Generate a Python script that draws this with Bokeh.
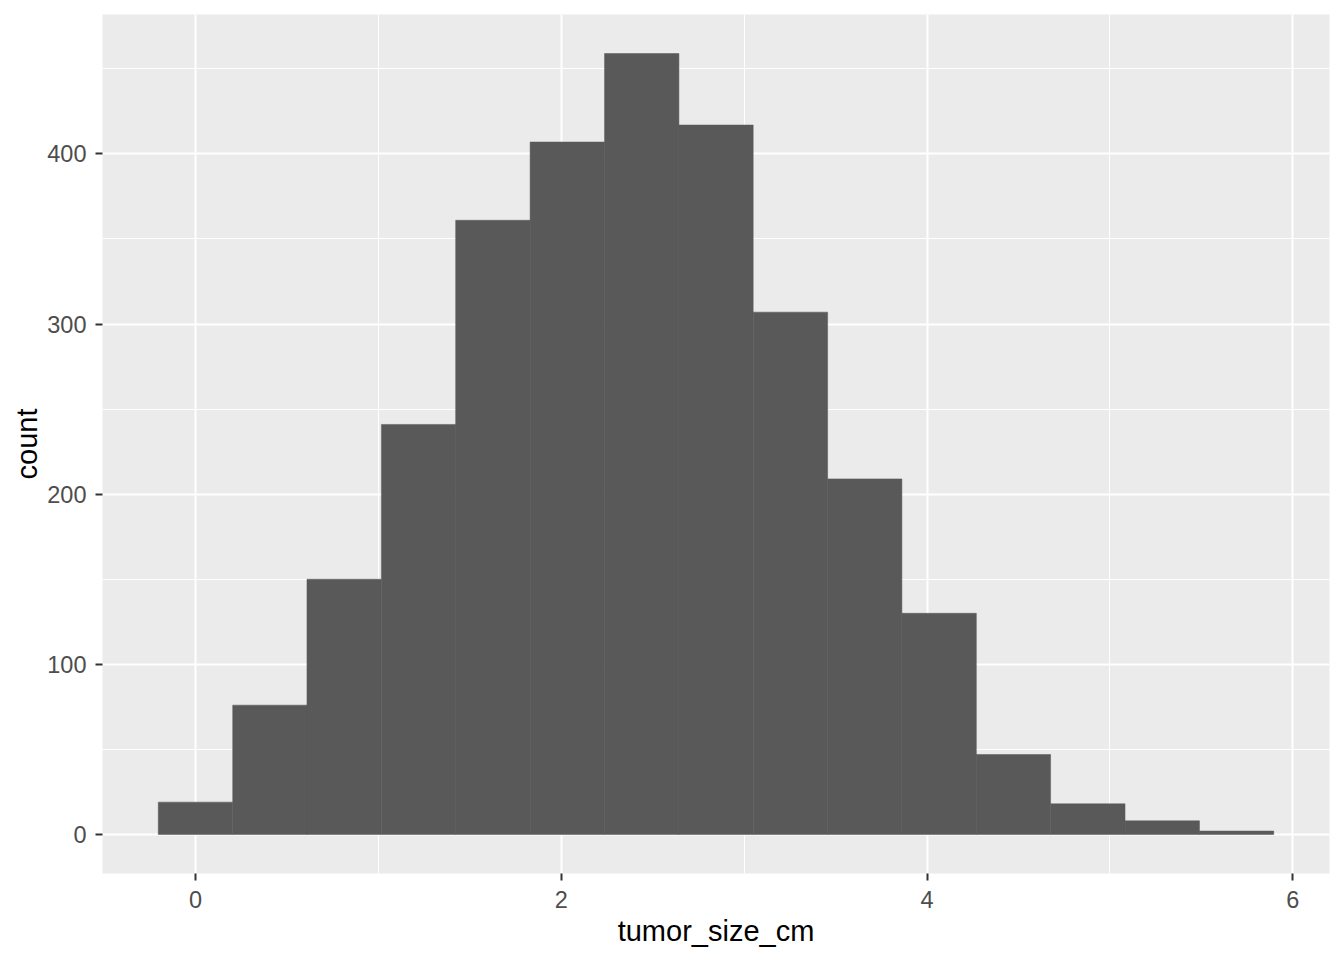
from bokeh.plotting import figure
from bokeh.models import FixedTicker, Range1d
from bokeh.embed import file_html
from bokeh.resources import INLINE

# data
bin_centers = [0.000, 0.407, 0.813, 1.220, 1.626, 2.033, 2.440, 2.846,
               3.253, 3.659, 4.066, 4.472, 4.879, 5.286, 5.692]
bin_width = 0.4066
counts = [19, 76, 150, 241, 361, 407, 459, 417, 307, 209, 130, 47, 18, 8, 2]
x_ticks = [0, 2, 4, 6]
x_minor = [1, 3, 5]
y_ticks = [0, 100, 200, 300, 400]
y_minor = [50, 150, 250, 350, 450]
x_label = "tumor_size_cm"
y_label = "count"

lefts = [c - bin_width / 2 for c in bin_centers]
rights = [c + bin_width / 2 for c in bin_centers]
xmin, xmax = min(lefts), max(rights)
xpad = 0.05 * (xmax - xmin)
ymax = max(counts)
ypad = 0.05 * ymax

p = figure(width=1340, height=956, output_backend="svg", toolbar_location=None,
           x_range=Range1d(xmin - xpad, xmax + xpad),
           y_range=Range1d(-ypad, ymax + ypad),
           min_border_left=102, min_border_right=11, min_border_top=14, min_border_bottom=83)

p.background_fill_color = "#EBEBEB"
p.border_fill_color = "white"
p.outline_line_color = None

p.quad(left=lefts, right=rights, bottom=0, top=counts,
       fill_color="#595959", line_color="#595959", line_width=0.5)

p.xaxis.ticker = FixedTicker(ticks=x_ticks, minor_ticks=x_minor)
p.yaxis.ticker = FixedTicker(ticks=y_ticks, minor_ticks=y_minor)

for g in (p.xgrid, p.ygrid):
    g.grid_line_color = "white"
    g.grid_line_width = 2
    g.minor_grid_line_color = "white"
    g.minor_grid_line_width = 1

for ax in (p.xaxis, p.yaxis):
    ax.axis_line_color = None
    ax.major_tick_line_color = "#333333"
    ax.major_tick_line_width = 2
    ax.major_tick_out = 7
    ax.major_tick_in = 0
    ax.minor_tick_line_color = None
    ax.major_label_text_font = "Liberation Sans"
    ax.major_label_text_font_size = "23.5px"
    ax.major_label_text_color = "#4D4D4D"
    ax.axis_label_text_font = "Liberation Sans"
    ax.axis_label_text_font_size = "29px"
    ax.axis_label_text_font_style = "normal"
    ax.axis_label_text_color = "black"

p.xaxis.axis_label = x_label
p.yaxis.axis_label = y_label
p.xaxis.major_label_standoff = 10
p.yaxis.major_label_standoff = 9
p.xaxis.axis_label_standoff = 4
p.yaxis.axis_label_standoff = 1

open("out.html", "w").write(file_html(p, INLINE))
